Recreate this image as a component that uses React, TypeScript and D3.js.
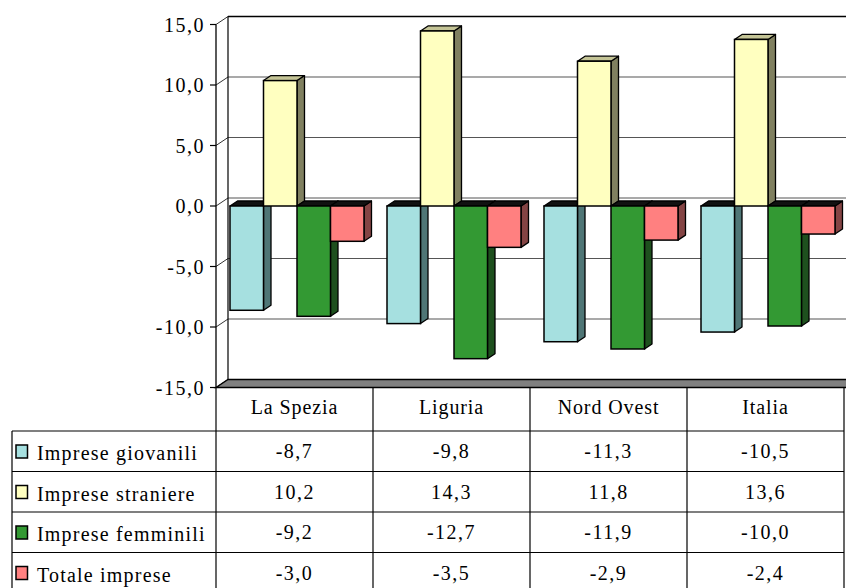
import React from 'react';
import * as d3 from 'd3';

const categories = ['La Spezia', 'Liguria', 'Nord Ovest', 'Italia'];
const seriesNames = ['Imprese giovanili', 'Imprese straniere', 'Imprese femminili', 'Totale imprese'];
const giovanili = [-8.7, -9.8, -11.3, -10.5];
const straniere = [10.2, 14.3, 11.8, 13.6];
const femminili = [-9.2, -12.7, -11.9, -10.0];
const totale = [-3.0, -3.5, -2.9, -2.4];
const yTicks = [-15, -10, -5, 0, 5, 10, 15];

const seriesValues = [giovanili, straniere, femminili, totale];
const fronts = ['#A6E0E0', '#FFFFC0', '#339933', '#FF8080'];
const sides = ['#4F7676', '#808060', '#1E501E', '#844444'];
const topsPos = ['#4F7676', '#C4C496', '#1E501E', '#844444'];

const W = 846;
const H = 588;
const FONT = 'Liberation Serif';
const SCALE = 0.5;

const fmt = (v: number) => v.toFixed(1).replace('.', ',');

function T({ x, y, anchor = 'start', size = 20, ls = 1, children }: { x: number; y: number; anchor?: string; size?: number; ls?: number; children: React.ReactNode }) {
  return (
    <text
      transform={`translate(${x},${y}) scale(${SCALE})`}
      textAnchor={anchor}
      fill="#000"
      fontSize={size / SCALE}
      letterSpacing={ls / SCALE}
      style={{ fontFamily: FONT }}
    >
      {children}
    </text>
  );
}

export default function App() {
  const axisX = 216;
  const wallDX = 12;
  const wallDY = 8;
  const bdx = 7.5;
  const bdy = 5;
  const right = 846;
  const y = d3.scaleLinear().domain([-15, 15]).range([387.5, 24.5]);
  const xBand = d3.scaleBand<string>().domain(categories).range([216, 844]);
  const xInner = d3.scaleBand<string>().domain(seriesNames).range([14, 148]);
  const bw = xInner.bandwidth();

  const tableTop = y(-15) + 0.5;
  const headerBottom = 431;
  const rowH = 40.5;
  const legendLeft = 12;

  const bars: React.ReactNode[] = [];
  categories.forEach((c, ci) => {
    seriesNames.forEach((s, si) => {
      const v = seriesValues[si][ci];
      const x0 = (xBand(c) as number) + (xInner(s) as number);
      const yTop = y(Math.max(v, 0)) - (v > 0 ? 2 : 0);
      const yBot = y(Math.min(v, 0)) - (v < 0 ? 1 : 0);
      const side = `${x0 + bw},${yTop} ${x0 + bw + bdx},${yTop - bdy} ${x0 + bw + bdx},${yBot - bdy} ${x0 + bw},${yBot}`;
      const top = `${x0},${yTop} ${x0 + bdx},${yTop - bdy} ${x0 + bw + bdx},${yTop - bdy} ${x0 + bw},${yTop}`;
      bars.push(
        <g key={`${ci}-${si}`}>
          <polygon points={side} fill={sides[si]} stroke="#000" strokeWidth={1.3} strokeLinejoin="round" />
          <polygon points={top} fill={v >= 0 ? topsPos[si] : '#111'} stroke="#000" strokeWidth={1.3} strokeLinejoin="round" />
          <rect x={x0} y={yTop} width={bw} height={yBot - yTop} fill={fronts[si]} stroke="#000" strokeWidth={1.5} />
        </g>
      );
    });
  });

  return (
    <svg width={W} height={H} style={{ position: 'absolute', left: 0, top: 0, background: '#fff' }}>
      <rect x={0} y={0} width={W} height={H} fill="#fff" />
      {yTicks.map((t) => (
        <g key={`g${t}`}>
          <line x1={axisX + wallDX} y1={y(t) - wallDY} x2={right} y2={y(t) - wallDY} stroke={t === 15 ? '#000' : '#555'} strokeWidth={t === 15 ? 1.5 : 1.2} />
          <line x1={axisX} y1={y(t)} x2={axisX + wallDX} y2={y(t) - wallDY} stroke="#333" strokeWidth={1} />
        </g>
      ))}
      <line x1={axisX + wallDX} y1={y(15) - wallDY} x2={axisX + wallDX} y2={y(-15) - wallDY} stroke="#000" strokeWidth={1.2} />
      <polygon
        points={`${axisX},${y(-15)} ${axisX + wallDX},${y(-15) - wallDY} ${right + 5},${y(-15) - wallDY} ${right + 5},${y(-15)}`}
        fill="#808080"
        stroke="#000"
        strokeWidth={1.5}
      />
      <line x1={axisX} y1={y(15)} x2={axisX} y2={y(-15)} stroke="#000" strokeWidth={1.3} />
      {yTicks.map((t) => (
        <g key={`t${t}`}>
          <line x1={axisX - 6} y1={y(t)} x2={axisX} y2={y(t)} stroke="#000" strokeWidth={1.2} />
          <T x={205} y={y(t) + 7} anchor="end" ls={1.5}>
            {fmt(t)}
          </T>
        </g>
      ))}
      {bars}
      {categories.map((c) => (
        <T key={`h${c}`} x={(xBand(c) as number) + xBand.bandwidth() / 2} y={414} anchor="middle" ls={0.9}>
          {c}
        </T>
      ))}
      {[...categories.map((c) => xBand(c) as number), 844].map((xv, i) => (
        <line key={`v${i}`} x1={xv} y1={tableTop} x2={xv} y2={H} stroke="#000" strokeWidth={1.2} />
      ))}
      <line x1={legendLeft} y1={headerBottom} x2={legendLeft} y2={H} stroke="#000" strokeWidth={1.2} />
      {seriesNames.map((s, si) => {
        const yt = headerBottom + si * rowH;
        return (
          <g key={`r${s}`}>
            <line x1={legendLeft} y1={yt} x2={844} y2={yt} stroke="#000" strokeWidth={1.2} />
            <rect x={16} y={yt + 14} width={11.5} height={13} fill={fronts[si]} stroke="#000" strokeWidth={1.5} />
            <T x={37} y={yt + 29} ls={1.2}>
              {s}
            </T>
            {categories.map((c, ci) => (
              <T key={`c${c}`} x={(xBand(c) as number) + xBand.bandwidth() / 2} y={yt + 27} anchor="middle" ls={1.5}>
                {fmt(seriesValues[si][ci])}
              </T>
            ))}
          </g>
        );
      })}
    </svg>
  );
}
